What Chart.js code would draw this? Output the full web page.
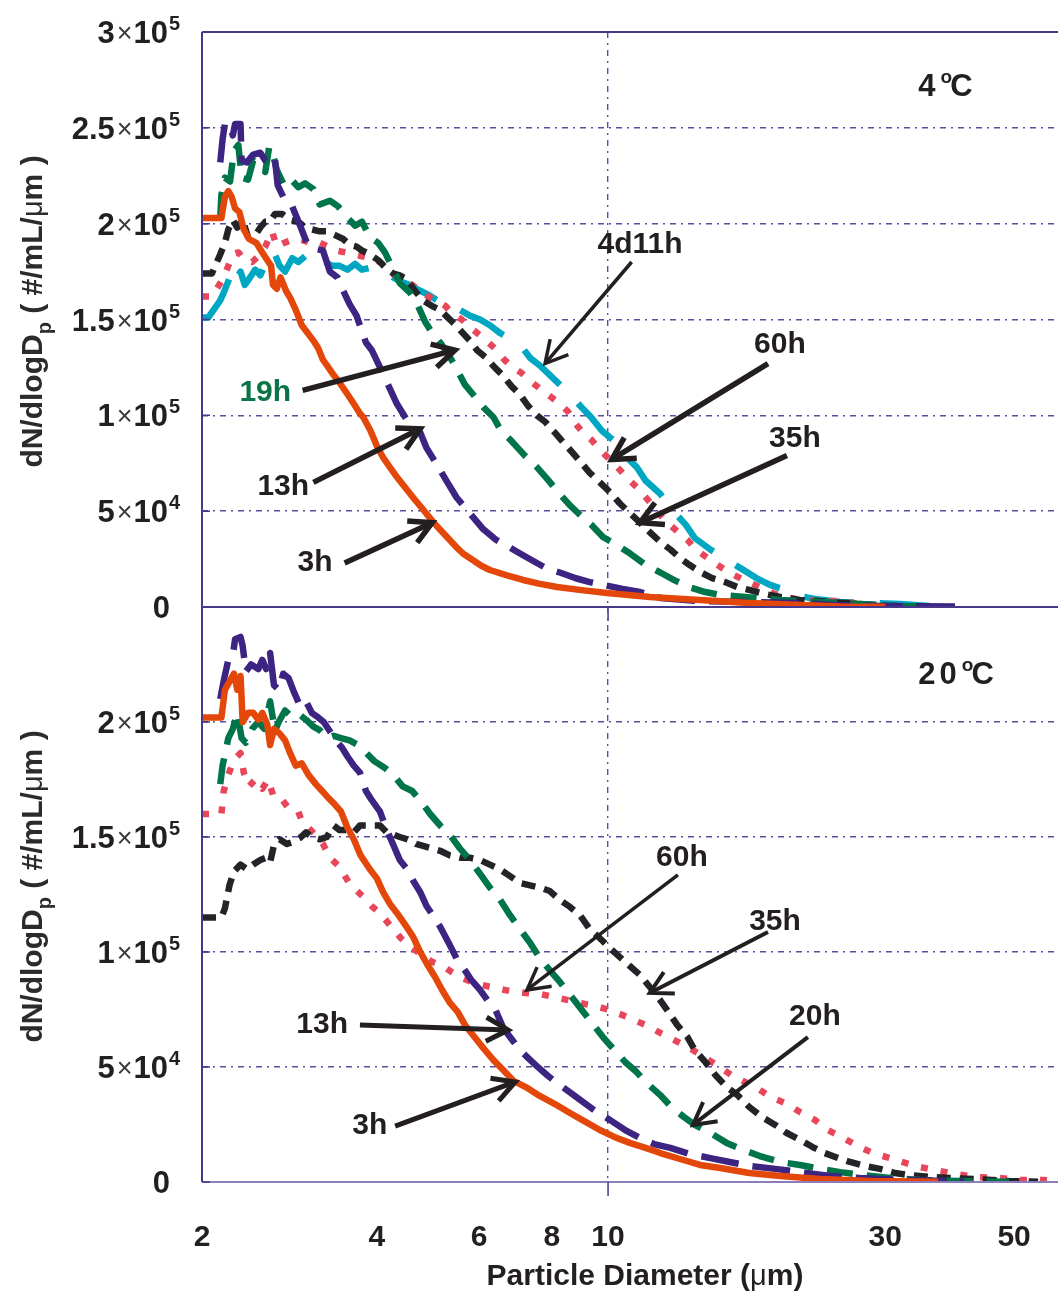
<!DOCTYPE html>
<html lang="en">
<head>
<meta charset="UTF-8">
<title>Particle size distribution, 4 and 20 °C</title>
<style>
  html, body { margin: 0; padding: 0; background: #fff; }
  #wrap { position: relative; width: 1058px; height: 1296px; }
  #wrap canvas { position: absolute; left: 0; top: 0; }
</style>
</head>
<body>
<div id="wrap">
  <canvas id="topChart" width="1058" height="1296"></canvas>
  <canvas id="bottomChart" width="1058" height="1296"></canvas>
</div>
<script src="https://cdn.jsdelivr.net/npm/chart.js"></script>
<script>
// diameters in µm, dN/dlogDp in 10^3 #/mL/µm
const xTicks = [2, 4, 6, 8, 10, 30, 50];
const topTicks = [0, 50, 100, 150, 200, 250, 300];
const bottomTicks = [0, 50, 100, 150, 200];

// 4 °C
const top3h = [[2.0,203],[2.16,203],[2.19,214],[2.22,217],[2.25,214],[2.28,208],[2.32,206],[2.36,197],[2.41,192],[2.48,190],[2.54,185],[2.59,181],[2.63,178],[2.65,168],[2.69,166],[2.73,172],[2.79,165],[2.84,161],[2.9,155],[2.97,147],[3.04,143],[3.11,139],[3.17,135],[3.23,129],[3.3,125],[3.37,121],[3.45,117],[3.56,111],[3.65,106],[3.74,101],[3.79,99],[3.9,92],[4.0,84],[4.1,78],[4.21,73],[4.35,67],[4.51,61],[4.65,56],[4.8,51],[4.95,46],[5.08,42],[5.3,36],[5.49,31],[5.65,27.5],[5.85,24.5],[6.05,21.5],[6.26,19.3],[6.7,16.5],[7.14,14.1],[7.6,12.2],[8.17,10.4],[9.0,8.8],[9.96,7.3],[11.8,5.2],[14.4,3.7],[17.5,2.1],[21.4,1.0],[25.1,0.3],[30,0.1]];
const top13h = [[2.15,232],[2.17,244],[2.19,252],[2.23,252],[2.26,246],[2.28,252],[2.33,252],[2.34,233],[2.39,232],[2.45,236],[2.52,237],[2.57,233],[2.62,231],[2.67,234],[2.7,220],[2.78,212],[2.86,209],[2.95,199],[3.03,190],[3.12,187],[3.23,186],[3.32,175],[3.42,172],[3.5,165],[3.59,158],[3.69,152],[3.83,138],[3.92,134],[4.05,125],[4.18,116],[4.33,106],[4.56,95],[4.75,91],[4.87,83],[5.08,74],[5.29,65],[5.49,57],[5.74,50],[6.08,41],[6.42,35],[6.78,31],[7.14,27],[7.85,20],[8.26,18],[8.8,15],[9.3,13],[10.0,11],[10.6,9.4],[11.35,7.8],[12.3,4.7],[14.4,3.1],[17.5,2.6],[21.4,2.1],[24.4,1.0],[29.4,0.5],[41,0.2]];
const top19h = [[2.15,203],[2.16,215],[2.19,224],[2.235,222],[2.27,238],[2.31,241],[2.34,224],[2.4,223],[2.45,233],[2.52,231],[2.57,227],[2.61,240],[2.64,238],[2.69,228],[2.76,221],[2.83,224],[2.93,219],[3.01,221],[3.11,218],[3.19,210],[3.32,212],[3.43,209],[3.56,203],[3.67,199],[3.77,201],[3.89,193],[4.02,190],[4.13,185],[4.27,176],[4.38,169],[4.56,164],[4.71,157],[4.84,149],[4.98,143],[5.14,138],[5.28,133],[5.45,126],[5.67,116],[5.89,110],[6.11,104],[6.35,99],[6.54,92],[6.8,87],[7.19,79],[7.54,73],[7.85,67],[8.2,60],[8.6,53],[8.95,48],[9.35,43],[9.8,36.5],[10.4,32],[10.9,28],[11.6,22],[12.3,18],[13.0,14],[13.8,10.4],[14.7,7.8],[15.6,6.3],[17.2,5.2],[19.8,3.7],[23.2,2.6],[27.1,1.6],[31.8,0.5],[34.4,0.2]];
const top35h = [[2.0,174],[2.08,174],[2.15,184],[2.19,190],[2.22,197],[2.26,202],[2.3,198],[2.35,202],[2.4,193],[2.47,194],[2.52,198],[2.57,201],[2.62,201],[2.67,205],[2.75,205],[2.83,202],[2.93,201],[3.01,198],[3.09,197],[3.19,196],[3.28,196],[3.39,194],[3.5,192],[3.59,189],[3.69,188],[3.77,186],[3.89,184],[4.02,181],[4.14,177],[4.27,174],[4.38,173],[4.51,171],[4.65,165],[4.8,160],[4.98,157],[5.14,155],[5.3,151],[5.47,147],[5.62,143],[5.78,139],[5.95,134],[6.17,130],[6.38,125],[6.58,121],[6.83,115],[7.05,111],[7.28,105],[7.54,100],[7.8,96.5],[8.1,91],[8.37,86],[8.66,81],[8.95,76],[9.3,70],[9.68,65],[10.07,60],[10.48,54],[10.9,49],[11.35,44],[11.8,39],[12.3,34],[12.8,30],[13.3,25.6],[13.8,22],[14.4,18.3],[15.1,15.1],[15.9,13],[16.7,10.4],[17.5,8.9],[18.6,6.8],[19.8,5.2],[21.4,3.7],[24.1,2.6],[27.1,1.6],[30.6,0.5],[34.4,0.2]];
const top60h = [[2.0,162],[2.08,162],[2.16,170],[2.2,175],[2.26,184],[2.31,185],[2.37,181],[2.44,180],[2.5,183],[2.57,188],[2.64,196],[2.69,188],[2.77,190],[2.83,191],[2.93,192],[3.01,191],[3.11,189],[3.19,190],[3.3,188],[3.4,186],[3.53,185],[3.64,184],[3.77,183],[3.89,182],[4.05,180],[4.18,176],[4.29,173],[4.43,171],[4.6,168],[4.75,165],[4.9,162],[5.06,160],[5.25,157],[5.4,153],[5.6,150],[5.78,146],[5.95,143],[6.17,139],[6.38,135],[6.63,129],[6.8,126],[7.1,122],[7.34,118],[7.63,114],[7.94,110],[8.26,106],[8.53,102],[8.77,96],[9.05,91],[9.38,87],[9.68,82],[10.07,77],[10.48,71.5],[10.8,67],[11.25,62],[11.7,56],[12.1,50.6],[12.5,45.4],[13.1,40],[13.7,35],[14.2,29.7],[15.0,24.5],[15.6,21],[16.2,17.7],[17.0,14.6],[17.6,12.5],[18.4,9.9],[19.2,7.3],[20.2,5.2],[21.4,3.7],[23.2,3.1],[25.1,3.1],[27.1,1.6],[29.4,0.5],[35,0.2]];
const top4d11h = [[2.0,151],[2.05,151],[2.15,160],[2.18,164],[2.22,170],[2.26,176],[2.29,171],[2.33,175],[2.37,168],[2.42,172],[2.47,176],[2.52,173],[2.56,178],[2.62,177],[2.67,184],[2.72,178],[2.78,175],[2.86,182],[2.93,180],[3.01,183],[3.09,180],[3.17,177],[3.26,180],[3.35,178],[3.45,178],[3.56,176],[3.67,179],[3.77,176],[3.89,177],[4.05,176],[4.21,173],[4.38,170],[4.56,168],[4.75,165],[4.9,163],[5.08,160],[5.28,158],[5.56,155],[5.78,152],[6.02,150],[6.26,147],[6.51,143],[6.78,140],[7.05,137],[7.34,130],[7.63,126],[7.94,121],[8.26,116],[8.6,111],[8.95,105],[9.35,99],[9.76,92],[10.3,86],[10.7,79],[11.2,73],[11.6,66],[12.3,59],[12.9,50.6],[13.6,43],[14.1,36],[15.0,30],[15.8,25.6],[16.9,20.3],[18.0,15.1],[19.0,11.5],[20.2,8.9],[21.4,5.7],[22.7,4.2],[25.1,2.6],[28.3,2.1],[31.8,1.6],[35.7,0.5],[38.7,0.2]];

// 20 °C
const bot3h = [[2.0,202],[2.16,202],[2.19,214],[2.235,218],[2.27,221],[2.3,214],[2.33,220],[2.35,200],[2.4,204],[2.45,204],[2.5,201],[2.54,204],[2.59,199],[2.62,190],[2.66,197],[2.72,195],[2.78,192],[2.83,187],[2.9,181],[2.97,182],[3.05,177],[3.14,173],[3.22,170],[3.3,167],[3.39,164],[3.47,161],[3.56,154],[3.65,149],[3.75,142],[3.89,136],[4.0,132],[4.1,126],[4.21,121],[4.33,117],[4.47,112],[4.62,106.5],[4.75,100],[4.9,94],[5.04,89],[5.18,83.5],[5.34,78],[5.51,74],[5.68,68],[5.89,63],[6.11,58],[6.35,53],[6.6,48.7],[6.87,44],[7.25,41],[7.63,37.4],[8.1,33.9],[8.6,30],[9.1,26.5],[9.68,22.6],[10.25,19.6],[10.9,17],[11.6,14.8],[12.3,12.6],[13.3,10],[14.4,7.4],[15.6,6.1],[17.5,3.9],[19.8,2.6],[23.2,1.3],[28.3,0.4],[37,0.1]];
const bot13h = [[2.15,210],[2.18,218],[2.22,227],[2.26,229],[2.28,236],[2.33,237],[2.35,233],[2.38,222],[2.43,225],[2.5,223],[2.54,227],[2.58,223],[2.62,230],[2.66,216],[2.71,214],[2.76,221],[2.82,219],[2.88,213],[2.95,207],[3.02,209],[3.09,204],[3.17,202],[3.24,200],[3.32,196],[3.4,192],[3.48,189],[3.56,185],[3.65,181],[3.74,178],[3.83,170],[3.92,166],[4.05,161],[4.16,153],[4.27,146.5],[4.38,140],[4.51,136],[4.62,131],[4.75,126],[4.87,120],[5.02,115],[5.14,111],[5.34,103],[5.49,97],[5.67,92],[5.81,88],[6.02,83.5],[6.2,79],[6.38,75.7],[6.6,67],[6.8,62.6],[7.05,57.4],[7.28,54],[7.54,50.4],[7.85,46.5],[8.17,43],[8.6,39],[9.05,34.8],[9.57,30.4],[10.07,27],[10.7,22.6],[11.35,19.1],[12.0,16.5],[12.8,14.8],[13.8,12.2],[15.0,10.4],[16.2,8.7],[17.5,7],[19.4,5.7],[21.4,4.3],[24.1,2.6],[27.1,1.7],[31.8,0.9],[41,0.2]];
const bot20h = [[2.15,173],[2.17,181],[2.22,193],[2.26,197],[2.3,204],[2.34,193],[2.38,191],[2.44,197],[2.5,200],[2.56,197],[2.62,209],[2.67,196],[2.71,200],[2.78,205],[2.86,202],[2.95,203],[3.02,201],[3.11,198],[3.19,196.5],[3.28,193],[3.37,194],[3.47,193],[3.59,192],[3.71,190],[3.82,187],[3.96,183],[4.13,180],[4.27,177],[4.43,172],[4.6,170],[4.75,166],[4.94,160],[5.14,155],[5.34,151],[5.56,145],[5.78,140],[6.02,134],[6.26,128],[6.51,123],[6.78,116],[7.05,110],[7.34,104],[7.63,97.4],[7.94,92],[8.26,87],[8.66,80.4],[9.0,75],[9.35,69.6],[9.8,63],[10.25,57.4],[10.7,52.2],[11.2,47.8],[11.6,43.5],[12.3,37.8],[12.85,32.6],[13.5,28.3],[14.1,24.8],[15.0,21.3],[16.0,17],[17.1,13.9],[18.25,11.3],[19.8,8.7],[21.4,7.4],[23.2,5.7],[25.1,4.3],[27.6,3],[30.6,1.7],[34.4,0.9],[40.3,0.4],[49,0.1]];
const bot35h = [[2.0,115],[2.16,115],[2.19,119],[2.23,129],[2.27,135],[2.33,138],[2.39,136],[2.45,138],[2.52,140],[2.58,141],[2.62,139],[2.66,146.5],[2.72,149],[2.8,147],[2.88,148],[2.95,149.6],[3.02,152],[3.09,150],[3.19,149],[3.28,150],[3.37,155],[3.45,153],[3.56,153],[3.65,152],[3.74,155],[3.82,155],[3.92,155],[4.05,155],[4.16,152],[4.28,151],[4.38,150],[4.52,149],[4.67,147],[4.82,146],[4.98,145],[5.14,144],[5.34,142],[5.56,141],[5.78,141],[6.02,140],[6.26,138],[6.51,136],[6.78,133],[7.05,130],[7.34,129],[7.63,128],[7.94,126.5],[8.26,122.6],[8.6,119.6],[8.95,116],[9.3,110],[9.68,106],[10.07,101.7],[10.48,97.8],[10.9,93.9],[11.35,90],[11.8,84.8],[12.3,79],[12.7,74],[13.15,68.3],[13.7,63],[14.1,57.4],[14.7,52.2],[15.3,46.5],[16.0,41.3],[16.7,37.8],[17.5,32.6],[18.4,28.3],[19.4,24.8],[20.3,21.3],[21.4,18.3],[22.5,15.2],[23.6,12.6],[24.9,10.4],[26.1,8.7],[27.6,7],[29.4,5.7],[31.2,3.9],[33,3],[35.8,2.2],[38.8,1.7],[42.7,1.3],[49,0.4],[55,0.1]];
const bot60h = [[2.0,160],[2.16,160],[2.18,170],[2.22,177],[2.27,183.5],[2.33,186.5],[2.36,178],[2.41,172],[2.47,175],[2.54,171],[2.6,175],[2.66,167],[2.75,166],[2.83,162],[2.93,161],[2.97,157],[3.05,154],[3.16,150],[3.23,147],[3.32,141],[3.45,137],[3.59,129.6],[3.79,124],[3.93,119.6],[4.05,117],[4.21,111.7],[4.4,106],[4.6,101.7],[4.78,98.7],[4.98,95.7],[5.2,94],[5.38,91.3],[5.6,88.7],[5.82,87],[6.06,85.7],[6.38,84.4],[6.78,83],[7.2,82.2],[7.63,81.7],[8.1,80.4],[8.53,79.1],[8.95,77.8],[9.5,76.5],[10.07,74.8],[10.8,71.7],[11.6,68.3],[12.3,64.8],[13.0,61.7],[13.8,58.3],[14.7,53.9],[15.5,50.4],[16.3,46.5],[17.2,43.5],[18.25,40],[19.2,36.5],[20.2,34.3],[21.4,30.4],[22.7,27],[23.9,22.6],[25.6,18.7],[27.1,15.2],[28.8,12.2],[30.6,10.4],[32.5,8.3],[34.4,6.5],[36.5,5.2],[39.6,3.5],[42.7,2.2],[47.3,1.7],[51,0.9],[56,0.9],[59.5,0.4]];

// callouts: text centre, arrow tail and arrow tip, all in data units
const topNotes = [
  { text: '4d11h', at: [11.35, 189], tail: [10.98, 180], tip: [7.79, 127], w: 3.5 },
  { text: '60h', at: [19.76, 137], tail: [18.85, 127], tip: [10.15, 77], w: 5.5 },
  { text: '35h', at: [20.97, 88], tail: [20.32, 79], tip: [11.35, 44], w: 5.5 },
  { text: '19h', at: [2.57, 112], tail: [2.98, 113], tip: [5.45, 134], w: 5.5, green: true },
  { text: '13h', at: [2.76, 63], tail: [3.11, 65], tip: [4.75, 93], w: 5.5 },
  { text: '3h', at: [3.13, 23], tail: [3.52, 23], tip: [4.98, 44], w: 5.5 }
];
const bottomNotes = [
  { text: '60h', at: [13.4, 141], tail: [13.19, 133.5], tip: [7.25, 83.5], w: 3.5 },
  { text: '35h', at: [19.38, 113], tail: [18.85, 108.7], tip: [11.8, 82.2], w: 4 },
  { text: '20h', at: [22.7, 71.7], tail: [22.08, 63], tip: [14.0, 24.8], w: 4 },
  { text: '13h', at: [3.22, 68.3], tail: [3.74, 68.3], tip: [6.73, 66.1], w: 5 },
  { text: '3h', at: [3.89, 24.3], tail: [4.30, 24.3], tip: [6.92, 43.5], w: 5 }
];

const FONT = '"Liberation Sans", Arial, Helvetica, sans-serif';
const INK = '#231f20';
const AXIS = '#47388c';
const GRID = '#5b4ea0';
const GRID_DASH = [6, 5, 2, 5];

const styles = {
  h3:  { color: '#e4470a', dash: [] },
  h13: { color: '#3d2483', dash: [38, 14] },
  h19: { color: '#00754a', dash: [26, 14] },
  h35: { color: '#222428', dash: [14, 9] },
  h60: { color: '#e8465a', dash: [7, 13] },
  d4:  { color: '#00a7c2', dash: [50, 26] }
};

function dataset(points, st) {
  return {
    data: points.map(p => ({ x: p[0], y: p[1] })),
    borderColor: st.color,
    borderWidth: 6.5,
    borderDash: st.dash,
    borderCapStyle: 'butt',
    borderJoinStyle: 'round',
    pointRadius: 0,
    tension: 0,
    fill: false
  };
}

function drawArrow(ctx, x1, y1, x2, y2, w) {
  const a = Math.atan2(y2 - y1, x2 - x1);
  const L = 25, s = 0.5;
  ctx.save();
  ctx.strokeStyle = INK;
  ctx.lineWidth = w;
  ctx.lineCap = 'butt';
  ctx.lineJoin = 'miter';
  ctx.beginPath();
  ctx.moveTo(x1, y1);
  ctx.lineTo(x2, y2);
  ctx.stroke();
  ctx.beginPath();
  ctx.moveTo(x2 - L * Math.cos(a - s), y2 - L * Math.sin(a - s));
  ctx.lineTo(x2, y2);
  ctx.lineTo(x2 - L * Math.cos(a + s), y2 - L * Math.sin(a + s));
  ctx.stroke();
  ctx.restore();
}

// "m×10^e" labels on the y axis
function drawYLabel(ctx, v, y, right) {
  const base = y + 11;
  ctx.fillStyle = INK;
  ctx.textBaseline = 'alphabetic';
  if (v === 0) {
    ctx.font = 'bold 31px ' + FONT;
    ctx.textAlign = 'right';
    ctx.fillText('0', right + 2, base);
    return;
  }
  const n = v * 1000;
  const e = Math.floor(Math.log10(n) + 1e-9);
  const m = +(n / Math.pow(10, e)).toFixed(2);
  ctx.textAlign = 'left';
  ctx.font = 'bold 31px ' + FONT;
  const tenX = right - ctx.measureText('10').width;
  ctx.fillText('10', tenX, base);
  ctx.font = 'bold 20px ' + FONT;
  ctx.fillText(String(e), right + 1, base - 13);
  ctx.font = '27px ' + FONT;
  ctx.fillStyle = '#3a3a3a';
  const tW = ctx.measureText('\u00d7').width;
  ctx.fillText('\u00d7', tenX - tW - 1, base - 1);
  ctx.fillStyle = INK;
  ctx.font = 'bold 31px ' + FONT;
  ctx.textAlign = 'right';
  ctx.fillText(String(m), tenX - tW - 3, base);
}

function drawYTitle(ctx, x, cy) {
  const parts = [
    { t: 'dN/dlogD', f: 'bold 30px ' + FONT, dy: 0 },
    { t: 'p', f: 'bold 20px ' + FONT, dy: 9 },
    { t: ' ( #/mL/', f: 'bold 30px ' + FONT, dy: 0 },
    { t: '\u03bc', f: '29px ' + FONT, dy: 0 },
    { t: 'm )', f: 'bold 30px ' + FONT, dy: 0 }
  ];
  let total = 0;
  parts.forEach(p => { ctx.font = p.f; p.w = ctx.measureText(p.t).width; total += p.w; });
  ctx.save();
  ctx.translate(x, cy);
  ctx.rotate(-Math.PI / 2);
  ctx.fillStyle = '#2b2b2b';
  ctx.textAlign = 'left';
  ctx.textBaseline = 'alphabetic';
  let px = -total / 2;
  parts.forEach(p => { ctx.font = p.f; ctx.fillText(p.t, px, p.dy); px += p.w; });
  ctx.restore();
}

function drawTemp(ctx, x, y, digits) {
  ctx.fillStyle = INK;
  ctx.textAlign = 'left';
  ctx.textBaseline = 'alphabetic';
  ctx.font = 'bold 31px ' + FONT;
  let cx = x;
  for (const ch of digits) {
    ctx.fillText(ch, cx, y + 12);
    cx += ctx.measureText(ch).width + 4;
  }
  cx += 1;
  ctx.font = 'bold 19px ' + FONT;
  ctx.fillText('o', cx, y - 1);
  cx += ctx.measureText('o').width - 2;
  ctx.font = 'bold 31px ' + FONT;
  ctx.fillText('C', cx, y + 12);
}

const panelDecor = {
  id: 'panelDecor',
  afterDraw(chart, args, opts) {
    const ctx = chart.ctx;
    const xs = chart.scales.x, ys = chart.scales.y;
    const a = chart.chartArea;
    ctx.save();

    // frame
    ctx.lineWidth = 2;
    ctx.strokeStyle = AXIS;
    ctx.beginPath();
    ctx.moveTo(a.left, a.top); ctx.lineTo(a.right, a.top);
    ctx.moveTo(a.left, a.top); ctx.lineTo(a.left, a.bottom);
    ctx.stroke();
    ctx.strokeStyle = opts.baseColor;
    ctx.beginPath();
    ctx.moveTo(a.left, a.bottom); ctx.lineTo(a.right, a.bottom);
    ctx.stroke();

    // small inward ticks on the y axis, one outward tick at 10 µm
    ctx.strokeStyle = AXIS;
    ctx.lineWidth = 1.5;
    ctx.beginPath();
    opts.labels.forEach(v => {
      const y = ys.getPixelForValue(v);
      ctx.moveTo(a.left, y); ctx.lineTo(a.left + 8, y);
    });
    const x10 = xs.getPixelForValue(10);
    ctx.moveTo(x10, a.bottom); ctx.lineTo(x10, a.bottom + 14);
    ctx.stroke();

    opts.labels.forEach(v => drawYLabel(ctx, v, ys.getPixelForValue(v), a.left - 34));
    drawYTitle(ctx, 42, (a.top + a.bottom) / 2 - 8);

    opts.notes.forEach(n => {
      drawArrow(ctx,
        xs.getPixelForValue(n.tail[0]), ys.getPixelForValue(n.tail[1]),
        xs.getPixelForValue(n.tip[0]), ys.getPixelForValue(n.tip[1]), n.w);
      ctx.font = 'bold 30px ' + FONT;
      ctx.fillStyle = n.green ? '#0a7446' : INK;
      ctx.textAlign = 'center';
      ctx.textBaseline = 'middle';
      ctx.fillText(n.text, xs.getPixelForValue(n.at[0]), ys.getPixelForValue(n.at[1]));
    });

    drawTemp(ctx, xs.getPixelForValue(opts.temp.at[0]), ys.getPixelForValue(opts.temp.at[1]), opts.temp.digits);

    if (opts.xAxis) {
      ctx.fillStyle = INK;
      ctx.font = 'bold 30px ' + FONT;
      ctx.textAlign = 'center';
      ctx.textBaseline = 'alphabetic';
      xTicks.forEach(v => ctx.fillText(String(v), xs.getPixelForValue(v), a.bottom + 64));

      const parts = [
        { t: 'Particle Diameter (', f: 'bold 30px ' + FONT },
        { t: '\u03bc', f: '29px ' + FONT },
        { t: 'm)', f: 'bold 30px ' + FONT }
      ];
      let total = 0;
      parts.forEach(p => { ctx.font = p.f; p.w = ctx.measureText(p.t).width; total += p.w; });
      ctx.textAlign = 'left';
      let px = 645 - total / 2;
      parts.forEach(p => { ctx.font = p.f; ctx.fillText(p.t, px, a.bottom + 103); px += p.w; });
    }
    ctx.restore();
  }
};

function makePanel(id, sets, yMax, padding, decor) {
  return new Chart(document.getElementById(id), {
    type: 'line',
    data: { datasets: sets },
    options: {
      responsive: false,
      animation: false,
      events: [],
      layout: { padding: padding },
      plugins: { legend: { display: false }, tooltip: { enabled: false }, panelDecor: decor },
      scales: {
        x: {
          type: 'logarithmic',
          min: 2,
          max: 59.5,
          afterBuildTicks: s => { s.ticks = xTicks.map(v => ({ value: v })); },
          ticks: { display: false },
          border: { display: false, dash: GRID_DASH },
          grid: {
            drawTicks: false,
            lineWidth: 1.4,
            color: c => (c.tick && c.tick.value === 10) ? GRID : 'rgba(0,0,0,0)'
          }
        },
        y: {
          min: 0,
          max: yMax,
          ticks: { display: false, stepSize: 50 },
          border: { display: false, dash: GRID_DASH },
          grid: {
            drawTicks: false,
            lineWidth: 1.4,
            color: c => (c.tick && c.tick.value > 0 && c.tick.value < yMax) ? GRID : 'rgba(0,0,0,0)'
          }
        }
      }
    },
    plugins: [panelDecor]
  });
}

makePanel('topChart', [
  dataset(top3h, styles.h3),
  dataset(top13h, styles.h13),
  dataset(top19h, styles.h19),
  dataset(top35h, styles.h35),
  dataset(top60h, styles.h60),
  dataset(top4d11h, styles.d4)
], 300, { left: 202, right: 0, top: 32, bottom: 1296 - 607 }, {
  labels: topTicks, notes: topNotes, baseColor: AXIS, xAxis: false,
  temp: { at: [34.2, 273], digits: '4' }
});

makePanel('bottomChart', [
  dataset(bot3h, styles.h3),
  dataset(bot13h, styles.h13),
  dataset(bot20h, styles.h19),
  dataset(bot35h, styles.h35),
  dataset(bot60h, styles.h60)
], 250, { left: 202, right: 0, top: 607, bottom: 1296 - 1182 }, {
  labels: bottomTicks, notes: bottomNotes, baseColor: '#8a7db8', xAxis: true,
  temp: { at: [34.2, 221.7], digits: '20' }
});
</script>
</body>
</html>
